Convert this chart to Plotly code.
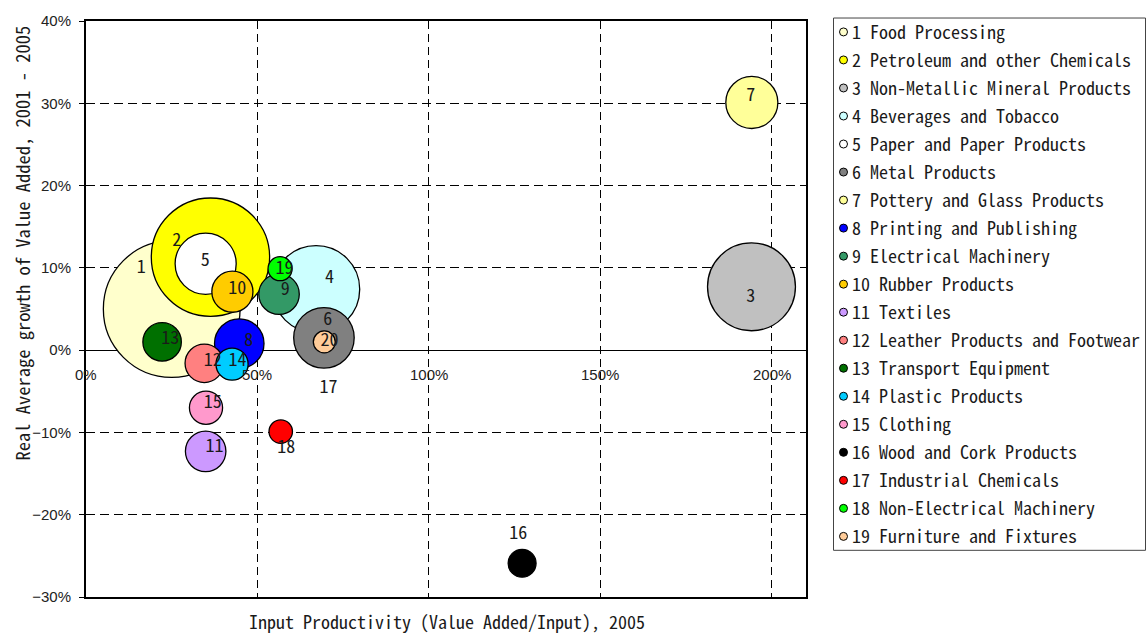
import plotly.graph_objects as go

# Sector data: input productivity (x, %), real growth of value added (y, %),
# value added (bubble area) and the colour used for each sector
sectors = [
    "Food Processing", "Petroleum and other Chemicals", "Non-Metallic Mineral Products",
    "Beverages and Tobacco", "Paper and Paper Products", "Metal Products",
    "Pottery and Glass Products", "Printing and Publishing", "Electrical Machinery",
    "Rubber Products", "Textiles", "Leather Products and Footwear", "Transport Equipment",
    "Plastic Products", "Clothing", "Wood and Cork Products", "Industrial Chemicals",
    "Non-Electrical Machinery", "Furniture and Fixtures",
]
productivity = [25.0, 36.3, 194.1, 67.1, 34.9, 69.4, 194.2, 44.7, 56.3, 42.7,
                34.9, 34.5, 22.2, 42.6, 35.0, 127.2, 56.8, 56.6, 69.5]
growth = [5.0, 11.3, 7.7, 7.4, 10.5, 1.5, 30.1, 0.8, 6.8, 7.1,
          -12.3, -1.6, 1.0, -1.7, -7.0, -25.9, -9.9, 9.9, 1.0]
value_added = [186.9, 140.0, 77.3, 76.2, 37.3, 36.6, 27.1, 24.5, 16.4, 16.9,
               16.4, 14.8, 14.8, 10.3, 11.0, 7.8, 5.5, 5.8, 4.8]
colors = ["#FFFFCC", "#FFFF00", "#C0C0C0", "#CCFFFF", "#FFFFFF", "#808080",
          "#FFFF99", "#0000FF", "#339966", "#FFCC00", "#CC99FF", "#FF8080",
          "#007000", "#00CCFF", "#FF99CC", "#000000", "#FF0000", "#00FF00", "#FFCC99"]

# Bubble number labels and where they sit (data units)
label_text = ["1", "2", "3", "4", "5", "6", "7", "8", "9", "10",
              "11", "12", "13", "14", "15", "16", "17", "18", "19", "20"]
label_x = [16.1, 26.5, 193.9, 71.0, 34.75, 70.5, 193.9, 47.5, 58.1, 44.1,
           37.5, 37.0, 24.6, 44.2, 37.0, 126.1, 70.7, 58.4, 57.9, 71.0]
label_y = [9.92, 13.18, 6.42, 8.71, 10.76, 3.61, 30.88, 1.07, 7.23, 7.42,
           -11.89, -1.42, 1.32, -1.42, -6.46, -22.46, -4.72, -11.96, 9.76, 1.11]

x_ticks = [0, 50, 100, 150, 200]
x_tick_labels = ["0%", "50%", "100%", "150%", "200%"]

W, H = 1148, 634
L, R, T, B = 86, 342, 17, 37
PW, PH = W - L - R, H - T - B


def px_x(px):
    return (px - L) / PW


def px_y(py):
    return (H - B - py) / PH


GOTHIC = "Noto Sans Mono CJK JP, Noto Sans CJK JP, DejaVu Sans Mono, monospace"
SANS = "Liberation Sans, Arial, sans-serif"

fig = go.Figure()

fig.add_trace(go.Scatter(
    x=productivity, y=growth, mode="markers", text=sectors,
    marker=dict(size=value_added, sizemode="area", sizeref=0.02,
                color=colors, opacity=1, line=dict(color="black", width=1.3)),
    hovertemplate="%{text}<br>%{x:.1f}%, %{y:.1f}%<extra></extra>",
    showlegend=False,
))

fig.add_trace(go.Scatter(
    x=label_x, y=label_y, mode="text", text=label_text,
    textposition="middle center",
    textfont=dict(family=GOTHIC, size=18, color="#1a1a1a"),
    hoverinfo="skip", showlegend=False,
))

annotations = []
for xv, lab in zip(x_ticks, x_tick_labels):
    annotations.append(dict(x=xv, y=0, xref="x", yref="y", text=lab, showarrow=False,
                            xanchor="center", yanchor="top", yshift=-14,
                            font=dict(family=SANS, size=15, color="#222222")))

annotations.append(dict(x=px_x(447), y=px_y(621), xref="paper", yref="paper",
                        text="Input Productivity (Value Added/Input), 2005",
                        showarrow=False, xanchor="center", yanchor="middle",
                        font=dict(family=GOTHIC, size=18, color="#1a1a1a")))
annotations.append(dict(x=px_x(22), y=px_y(241), xref="paper", yref="paper",
                        text="Real Average growth of Value Added, 2001 - 2005",
                        textangle=-90, showarrow=False, xanchor="center", yanchor="middle",
                        font=dict(family=GOTHIC, size=18.5, color="#1a1a1a")))

# Legend panel on the right
shapes = [dict(type="rect", xref="paper", yref="paper",
               x0=px_x(833.5), x1=px_x(1145.5), y0=px_y(550), y1=px_y(14),
               line=dict(color="#444444", width=1), fillcolor="white", layer="below")]
for i, (name, col) in enumerate(zip(sectors, colors)):
    yc = 28 + 28.22 * i
    shapes.append(dict(type="circle", xref="paper", yref="paper",
                       xsizemode="pixel", ysizemode="pixel",
                       xanchor=px_x(843.5), yanchor=px_y(yc),
                       x0=-4, x1=4, y0=-4, y1=4,
                       fillcolor=col, line=dict(color="black", width=1)))
    annotations.append(dict(x=px_x(850), y=px_y(yc - 1), xref="paper", yref="paper",
                            text=f"{i + 1} {name}", showarrow=False,
                            xanchor="left", yanchor="middle",
                            font=dict(family=GOTHIC, size=18, color="#1a1a1a")))

fig.update_layout(
    width=W, height=H,
    margin=dict(l=L, r=R, t=T, b=B),
    paper_bgcolor="white", plot_bgcolor="white",
    showlegend=False,
    annotations=annotations,
    shapes=shapes,
    xaxis=dict(range=[0, 210], dtick=50, tick0=0, showticklabels=False, ticks="",
               showgrid=True, gridcolor="black", gridwidth=1, griddash="8px,5px",
               zeroline=False, showline=True, linecolor="black", linewidth=2, mirror=True),
    yaxis=dict(range=[-30, 40], dtick=10, tick0=0, ticksuffix="%",
               ticks="outside", ticklen=5, tickcolor="black", tickwidth=1,
               ticklabelstandoff=5,
               tickfont=dict(family=SANS, size=15, color="#222222"),
               showgrid=True, gridcolor="black", gridwidth=1, griddash="9px,5px",
               zeroline=True, zerolinecolor="black", zerolinewidth=1,
               showline=True, linecolor="black", linewidth=2, mirror=True),
)

fig.write_html("out.html")
